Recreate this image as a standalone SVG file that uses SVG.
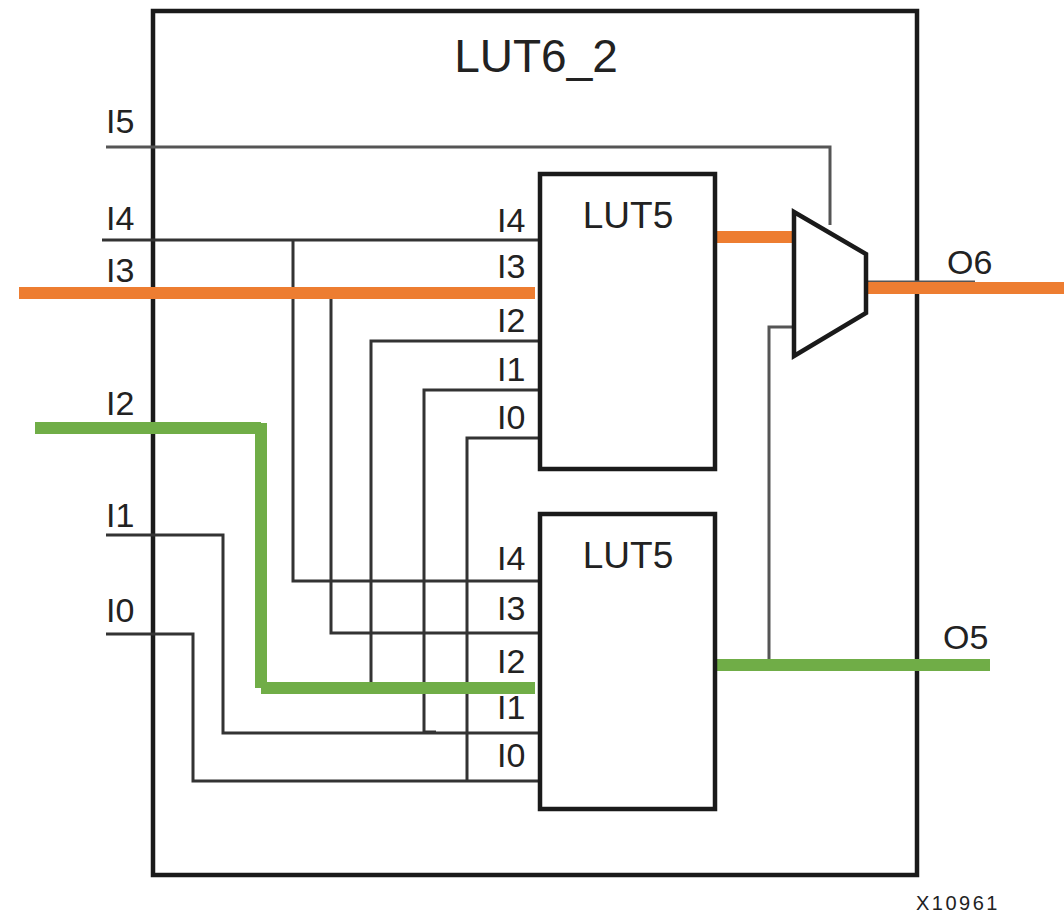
<svg xmlns="http://www.w3.org/2000/svg" width="1064" height="916" viewBox="0 0 1064 916">
<style>
text{font-family:"Liberation Sans",Arial,sans-serif;fill:#222}
.p{font-size:34px}
.b{fill:none;stroke:#1a1a1a;stroke-width:4.5}
.w{fill:none;stroke:#333;stroke-width:3}
.g{fill:none;stroke:#555;stroke-width:3}
.o{fill:none;stroke:#ed7d31;stroke-width:12}
.v{fill:none;stroke:#70ad47;stroke-width:12}
</style>
<rect width="1064" height="916" fill="#fff"/>
<g id="lut6"><rect class="b" x="153" y="11" width="764" height="864"/>
<text x="536" y="72" font-size="46" text-anchor="middle">LUT6_2</text>
<text x="958" y="910" font-size="20" letter-spacing="2.5" text-anchor="middle">X10961</text></g>
<g id="connectors">
<path class="g" d="M106 147H830V225"/>
<path class="w" d="M102 240H540M293 240V581H540M331 299V633H540M540 341H371V682M540 390H424V732H436M540 438H467V781"/>
<path class="w" d="M106 535H223V733H540M106 634H193V781H540"/>
<path class="g" d="M793 327H769V664"/>
<path class="g" d="M868 282H975"/>
<path class="o" d="M19 293H535M716 237H793M868 288H1064"/>
<path class="v" d="M35 428H261M261 423V688M255 682H261M261 688H535M717 665H990"/>
</g>
<g id="lut5-top"><rect class="b" x="540" y="174" width="175" height="295"/>
<text x="628" y="228" font-size="37" text-anchor="middle">LUT5</text></g>
<g id="lut5-bottom"><rect class="b" x="540" y="514" width="175" height="295"/>
<text x="628" y="568" font-size="37" text-anchor="middle">LUT5</text></g>
<g id="mux"><path class="b" d="M794 212L866 254V313L794 356Z"/></g>
<g id="labels">
<text class="p" x="106" y="133">I5</text><text class="p" x="106" y="230">I4</text><text class="p" x="106" y="282">I3</text>
<text class="p" x="106" y="415">I2</text><text class="p" x="106" y="527">I1</text><text class="p" x="106" y="622">I0</text>
<text class="p" x="497" y="232">I4</text><text class="p" x="497" y="278">I3</text><text class="p" x="497" y="332">I2</text><text class="p" x="497" y="381">I1</text><text class="p" x="497" y="429">I0</text>
<text class="p" x="497" y="570">I4</text><text class="p" x="497" y="620">I3</text><text class="p" x="497" y="673">I2</text><text class="p" x="497" y="719">I1</text><text class="p" x="497" y="767">I0</text>
<text class="p" x="947" y="274">O6</text><text class="p" x="943" y="649">O5</text>
</g>
</svg>
